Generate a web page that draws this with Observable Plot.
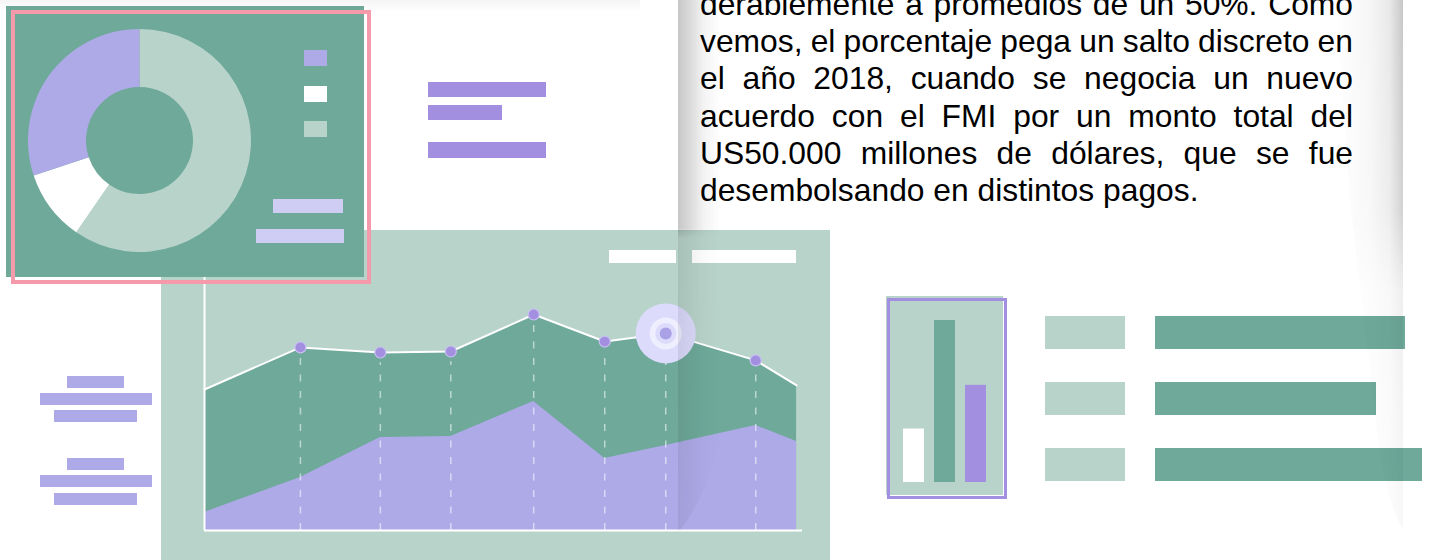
<!DOCTYPE html>
<html>
<head>
<meta charset="utf-8">
<script src="https://cdn.jsdelivr.net/npm/d3@7"></script>
<script src="https://cdn.jsdelivr.net/npm/@observablehq/plot@0.6"></script>
<style>
  html, body { margin: 0; padding: 0; background: #fff; }
  #stage { position: relative; width: 1429px; height: 560px; overflow: hidden; background: #fff;
           font-family: "Liberation Sans", Arial, sans-serif; }
  .abs { position: absolute; }
  .abs svg { display: block; max-width: none; }
  .line { position: absolute; left: 700px; width: 653px; white-space: nowrap; color: #000;
          font-size: 31.8px; line-height: 37.3px; }
</style>
</head>
<body>
<div id="stage"></div>
<script>
// ---------------- DATA ----------------
// Area chart (x in arbitrary units 0..100, y in 0..100)
const areaX   = [0, 16.2, 29.7, 41.6, 55.6, 67.6, 77.9, 93.1, 100];
const areaTop = [55.3, 71.8, 69.8, 70.2, 84.7, 74.1, 77.3, 66.7, 56.9];
const areaLow = [7.1, 20.8, 36.5, 36.9, 50.6, 28.2, 33.3, 41.2, 34.9];
const highlightIndex = 6;

// Donut
const donutValues = [59.6, 10.3, 30.1];

// Small vertical bar chart
const barCats   = ["a", "b", "c"];
const barValues = [33, 100, 60];

// Horizontal bar list
const listCats   = ["r1", "r2", "r3"];
const listValues = [250, 221, 267];

// Text
const textLines = [
  "derablemente a promedios de un 50%. Como",
  "vemos, el porcentaje pega un salto discreto en",
  "el año 2018, cuando se negocia un nuevo",
  "acuerdo con el FMI por un monto total del",
  "US50.000 millones de dólares, que se fue",
  "desembolsando en distintos pagos."
];

// ---------------- STYLE ----------------
const DARK = "#6ea99a", LIGHT = "#b8d3ca", LAV = "#aeaae8", PURPLE = "#a38fe0", PALE = "#d0cdf5", PINK = "#f59aab";
const donutColors = [LIGHT, "#ffffff", LAV];
const barColors = ["#ffffff", DARK, PURPLE];

// ---------------- HELPERS ----------------
const stage = document.getElementById("stage");
function place(el, x, y, w, h) {
  const d = document.createElement("div");
  d.className = "abs";
  Object.assign(d.style, {left: x + "px", top: y + "px", width: w + "px", height: h + "px"});
  if (el) d.appendChild(el);
  stage.appendChild(d);
  return d;
}
function box(x, y, w, h, fill, extra) {
  const d = place(null, x, y, w, h);
  d.style.background = fill;
  if (extra) Object.assign(d.style, extra);
  return d;
}

// ---------------- AREA CHART PANEL ----------------
box(161, 230, 669, 330, LIGHT);

const rows = areaX.map((x, i) => ({x, top: areaTop[i], low: areaLow[i], i}));
const inner = rows.slice(1, -1);
const dotsRows = inner.filter(d => d.i !== highlightIndex);
const hl = rows.filter(d => d.i === highlightIndex);

const areaPlot = Plot.plot({
  width: 669, height: 330,
  marginLeft: 43, marginRight: 28, marginTop: 45, marginBottom: 30,
  x: {domain: [0, 101], axis: null},
  y: {domain: [0, 100], axis: null},
  style: {background: "transparent", overflow: "visible"},
  marks: [
    Plot.areaY(rows, {x: "x", y: "top", fill: DARK}),
    Plot.areaY(rows, {x: "x", y: "low", fill: LAV}),
    Plot.ruleX(inner, {x: "x", y1: 0, y2: d => d.top - 4, stroke: "white", strokeOpacity: 0.55,
                       strokeWidth: 1.5, strokeDasharray: "7,9.5"}),
    Plot.line(rows, {x: "x", y: "top", stroke: "white", strokeWidth: 2}),
    Plot.ruleX([0], {stroke: "white", strokeWidth: 2}),
    Plot.ruleY([0], {stroke: "white", strokeWidth: 2}),
    Plot.dot(dotsRows, {x: "x", y: "top", r: 5.5, fill: PURPLE, stroke: "#c8c0f2", strokeWidth: 1.2}),
    Plot.dot(hl, {x: "x", y: "top", r: 30, fill: "#dddbfc"}),
    Plot.dot(hl, {x: "x", y: "top", r: 16, fill: "#efeefe"}),
    Plot.dot(hl, {x: "x", y: "top", r: 10.5, fill: "#dddbfc"}),
    Plot.dot(hl, {x: "x", y: "top", r: 6, fill: "#a9a0e6"})
  ]
});
place(areaPlot, 161, 230, 669, 330);

// legend placeholders of the area chart
box(609, 250, 67, 13, "#ffffff");
box(692, 250, 104, 13, "#ffffff");

// ---------------- DONUT PANEL ----------------
box(6, 6, 358, 271, DARK);
const pie = d3.pie().sort(null).value(d => d)(donutValues);
const arc = d3.arc().innerRadius(53.5).outerRadius(111.5);
function donutMark() {
  const g = d3.create("svg:g").attr("transform", "translate(133.5,134.5)");
  g.selectAll("path").data(pie).join("path").attr("d", arc).attr("fill", (d, i) => donutColors[i]);
  return g.node();
}
let donutPlot;
try {
  donutPlot = Plot.plot({width: 358, height: 271, margin: 0,
    style: {background: "transparent", overflow: "visible"}, marks: [donutMark]});
} catch (e) {
  donutPlot = d3.create("svg").attr("width", 358).attr("height", 271).node();
  donutPlot.appendChild(donutMark());
}
place(donutPlot, 6, 6, 358, 271);

// donut legend swatches and placeholder bars
box(304, 50, 23, 16, LAV);
box(304, 86, 23, 16, "#ffffff");
box(304, 121, 23, 16, LIGHT);
box(273, 199, 70, 14, PALE);
box(256, 229, 88, 14, PALE);

// pink frame
box(11, 10, 360, 274, "transparent", {border: "4px solid " + PINK, boxSizing: "border-box"});

// ---------------- DECORATIVE TEXT PLACEHOLDERS ----------------
[[67, 376, 57], [40, 393, 112], [54, 410, 83], [67, 458, 57], [40, 475, 112], [54, 493, 83]]
  .forEach(([x, y, w]) => box(x, y, w, 12, LAV));
box(428, 82, 118, 15, PURPLE);
box(428, 105, 74, 15, PURPLE);
box(428, 142, 118, 16, PURPLE);

// ---------------- SMALL BAR CHART ----------------
box(886, 296, 117, 199, LIGHT);
const barPlot = Plot.plot({
  width: 117, height: 199,
  marginLeft: 12, marginRight: 12, marginTop: 24, marginBottom: 13,
  x: {domain: barCats, padding: 0, axis: null},
  y: {domain: [0, 100], axis: null},
  style: {background: "transparent", overflow: "visible"},
  marks: [
    Plot.barY(barValues, {x: (d, i) => barCats[i], y: d => d, fill: (d, i) => barColors[i],
                          insetLeft: 5, insetRight: 5})
  ],
  color: {type: "identity"}
});
place(barPlot, 886, 296, 117, 199);
box(887, 298, 120, 201, "transparent", {border: "3.5px solid " + PURPLE, boxSizing: "border-box"});

// ---------------- HORIZONTAL BAR LIST ----------------
box(1045, 316, 80, 33, LIGHT);
box(1045, 382, 80, 33, LIGHT);
box(1045, 448, 80, 33, LIGHT);
const listPlot = Plot.plot({
  width: 274, height: 165, margin: 0,
  x: {domain: [0, 274], axis: null},
  y: {domain: listCats, paddingInner: 0.5, paddingOuter: 0, axis: null},
  style: {background: "transparent", overflow: "visible"},
  marks: [
    Plot.barX(listValues, {x: d => d, y: (d, i) => listCats[i], fill: DARK})
  ]
});
place(listPlot, 1155, 316, 274, 165);

// ---------------- TEXT ----------------
textLines.forEach((t, i) => {
  const d = document.createElement("div");
  d.className = "line";
  d.style.top = (-14.3 + i * 37.3) + "px";
  const s = document.createElement("span");
  s.textContent = t;
  d.appendChild(s);
  stage.appendChild(d);
  if (i < textLines.length - 1) {
    const w = s.getBoundingClientRect().width;
    const n = (t.match(/ /g) || []).length;
    if (n > 0) s.style.wordSpacing = ((653 - w) / n) + "px";
  }
});

// ---------------- PAPER SHADING OVERLAY ----------------
const overlay = d3.create("svg").attr("width", 1429).attr("height", 560).style("pointer-events", "none");
const defs = overlay.append("defs");
function grad(id, stops, vertical) {
  const g = defs.append("linearGradient").attr("id", id)
    .attr("x1", 0).attr("y1", 0).attr("x2", vertical ? 0 : 1).attr("y2", vertical ? 1 : 0);
  stops.forEach(([o, c, a]) => g.append("stop").attr("offset", o).attr("stop-color", c).attr("stop-opacity", a));
}
grad("gL", [[0, "#000", 0.22], [0.3, "#000", 0.14], [0.6, "#000", 0.05], [1, "#000", 0]]);
grad("gR", [[0, "#000", 0], [0.5, "#000", 0.035], [0.8, "#000", 0.09], [1, "#000", 0.22]]);
grad("vL", [[0, "#fff", 1], [0.43, "#fff", 1], [0.45, "#fff", 0.4], [1, "#fff", 0.3]], true);
grad("vR", [[0, "#fff", 1], [0.4, "#fff", 0.8], [0.55, "#fff", 0.3], [1, "#fff", 0.12]], true);
grad("gT", [[0, "#000", 0.04], [1, "#000", 0]], true);
const mL = defs.append("mask").attr("id", "mL").attr("maskUnits", "userSpaceOnUse")
  .attr("x", 0).attr("y", 0).attr("width", 1429).attr("height", 560);
mL.append("rect").attr("x", 670).attr("y", 0).attr("width", 60).attr("height", 530).attr("fill", "url(#vL)");
const mR = defs.append("mask").attr("id", "mR").attr("maskUnits", "userSpaceOnUse")
  .attr("x", 0).attr("y", 0).attr("width", 1429).attr("height", 560);
mR.append("rect").attr("x", 1330).attr("y", 0).attr("width", 80).attr("height", 530).attr("fill", "url(#vR)");

overlay.append("rect").attr("x", 0).attr("y", 0).attr("width", 640).attr("height", 12).attr("fill", "url(#gT)");
overlay.append("path").attr("d", "M678,0 L720,0 L720,440 Q705,500 680,530 L678,530 Z")
  .attr("fill", "url(#gL)").attr("mask", "url(#mL)");
overlay.append("path").attr("d", "M1336,0 L1403,0 L1403,530 Q1388,505 1378,440 L1350,200 Z")
  .attr("fill", "url(#gR)").attr("mask", "url(#mR)");
place(overlay.node(), 0, 0, 1429, 560).style.pointerEvents = "none";
</script>
</body>
</html>
